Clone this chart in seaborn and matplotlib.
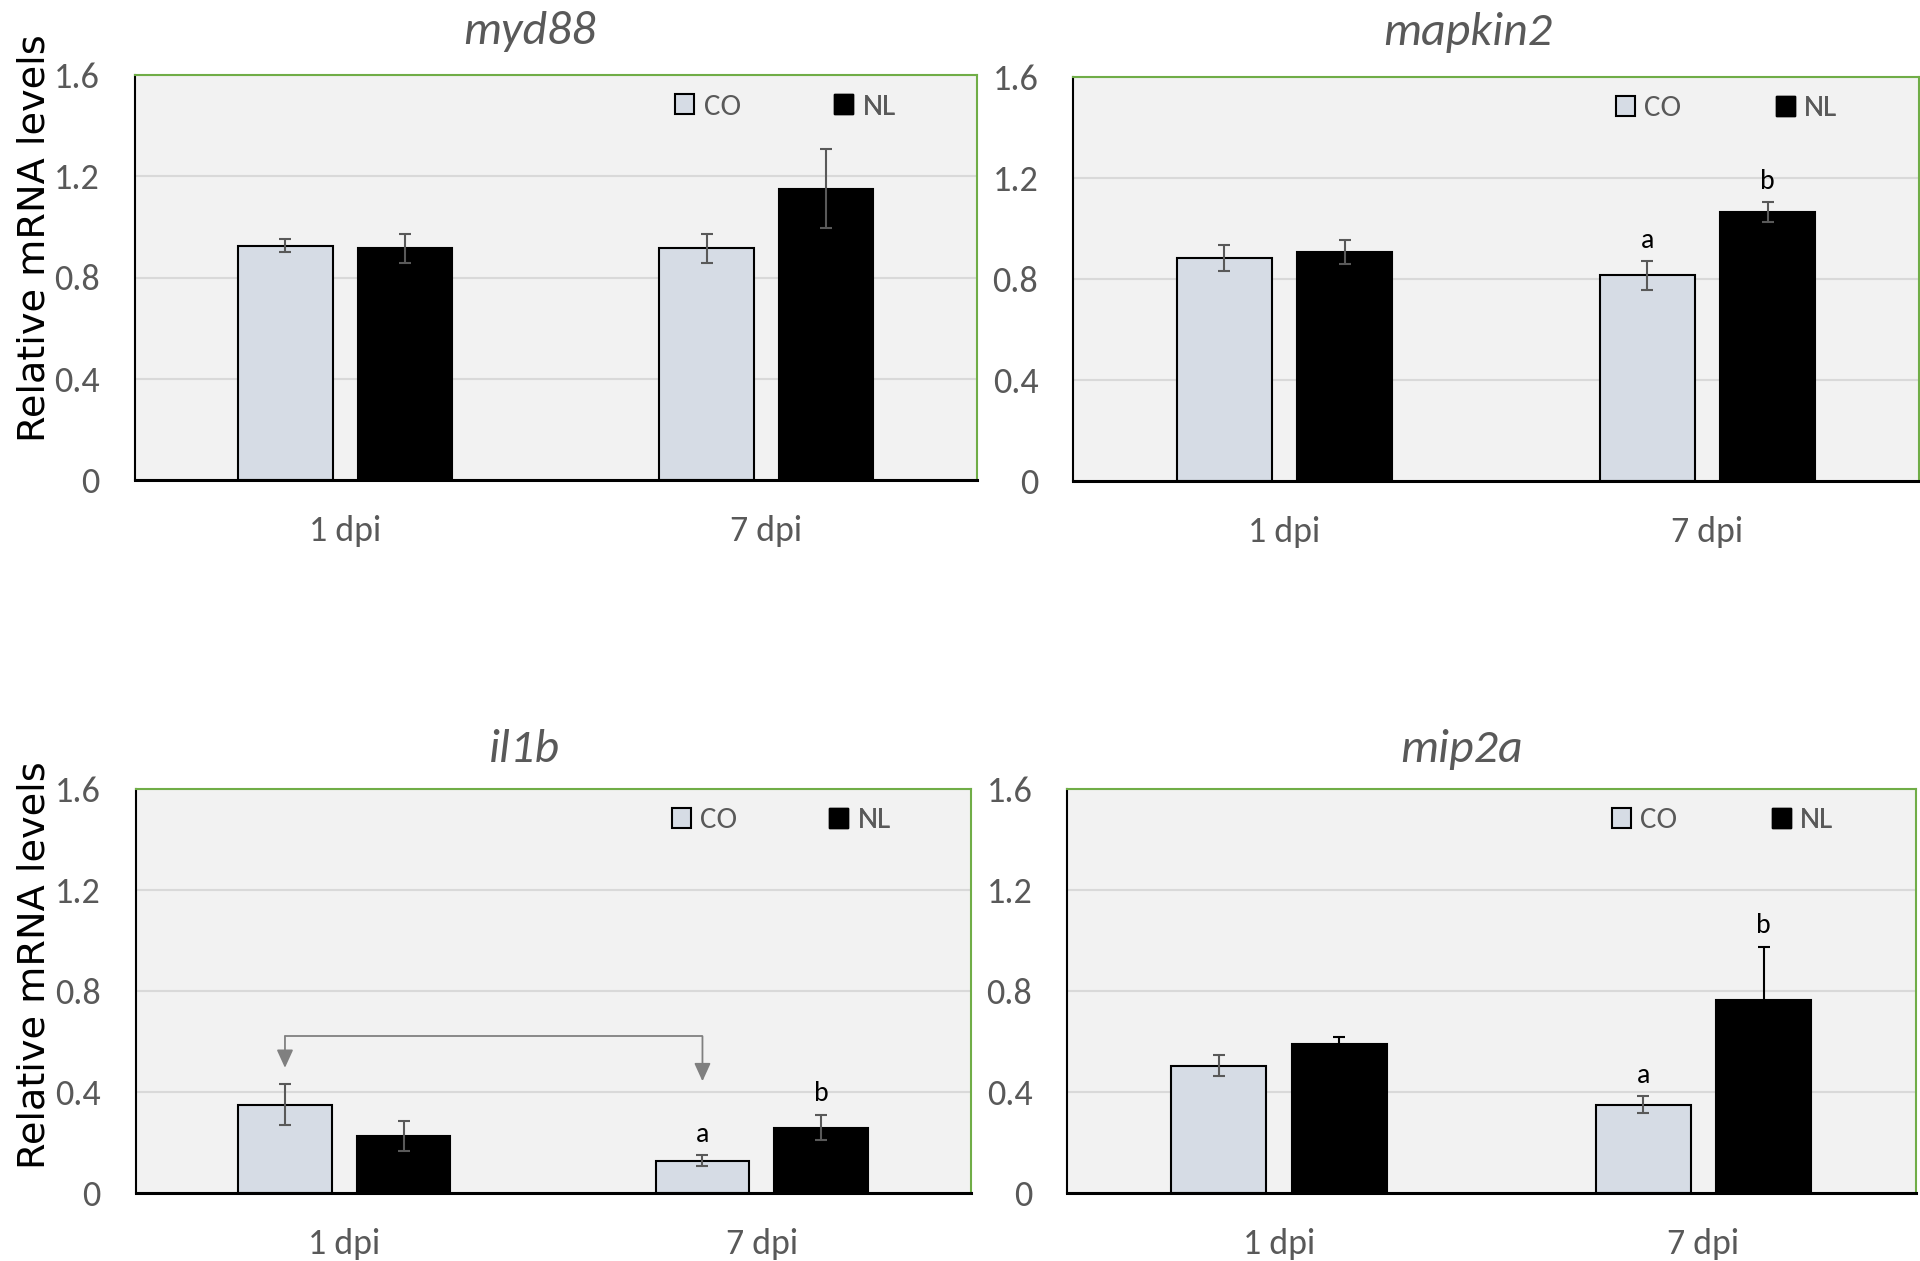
import numpy as np
import pandas as pd
import matplotlib
matplotlib.use("Agg")
import matplotlib.pyplot as plt
import seaborn as sns
from matplotlib.patches import Patch
from matplotlib import font_manager as fm

# ---------------- data ----------------
genes = ["myd88", "mapkin2", "il1b", "mip2a"]
days = ["1 dpi", "7 dpi"]
groups = ["CO", "NL"]

myd88_co = [0.926, 0.916]
myd88_nl = [0.916, 1.151]
myd88_co_err = [0.026, 0.057]
myd88_nl_err = [0.057, 0.157]

mapkin2_co = [0.882, 0.813]
mapkin2_nl = [0.906, 1.063]
mapkin2_co_err = [0.050, 0.057]
mapkin2_nl_err = [0.048, 0.040]

il1b_co = [0.350, 0.127]
il1b_nl = [0.226, 0.259]
il1b_co_err = [0.082, 0.022]
il1b_nl_err = [0.059, 0.051]

mip2a_co = [0.503, 0.350]
mip2a_nl = [0.589, 0.762]
mip2a_co_err = [0.041, 0.034]
mip2a_nl_err = [0.028, 0.212]

# significance letters at 7 dpi (CO, NL)
letters_7dpi = {"myd88": None, "mapkin2": ["a", "b"], "il1b": ["a", "b"], "mip2a": ["a", "b"]}

yticks = [0, 0.4, 0.8, 1.2, 1.6]
ytick_labels = ["0", "0.4", "0.8", "1.2", "1.6"]
ylabel = "Relative mRNA levels"

values = {
    "myd88": (myd88_co, myd88_nl, myd88_co_err, myd88_nl_err),
    "mapkin2": (mapkin2_co, mapkin2_nl, mapkin2_co_err, mapkin2_nl_err),
    "il1b": (il1b_co, il1b_nl, il1b_co_err, il1b_nl_err),
    "mip2a": (mip2a_co, mip2a_nl, mip2a_co_err, mip2a_nl_err),
}

# ---------------- style ----------------
sns.set_theme(style="white")
avail = {f.name for f in fm.fontManager.ttflist}


def pick(*names):
    for n in names:
        if n in avail:
            return n
    return "DejaVu Sans"


TFONT = pick("Carlito", "Lato", "Open Sans", "DejaVu Sans")
plt.rcParams["font.family"] = [TFONT, "DejaVu Sans"]

GRAY = "#595959"
CO_COLOR = "#D6DCE5"
GREEN = "#70AD47"
BG = "#F2F2F2"

W, H = 1920, 1261
fig = plt.figure(figsize=(W / 100, H / 100), dpi=100)
fig.patch.set_facecolor("white")
renderer = fig.canvas.get_renderer()


def fit(text, target_px, base=20.0, **kw):
    t = fig.text(0, 0, text, fontsize=base, **kw)
    w = t.get_window_extent(renderer=renderer).width
    t.remove()
    return base * target_px / w


FS_YTICK = fit("1.6", 46)
FS_XTICK = fit("1 dpi", 72)
FS_LEG = fit("CO", 37)
FS_TITLE = fit("myd88", 133, style="italic")
FS_YLAB = fit(ylabel, 408, family=["DejaVu Sans"])
FS_LET = 20
PX_PER_PT = 100 / 72

# axes boxes in pixels: left, right, top, bottom
boxes = {
    "myd88": (134.5, 977, 75, 480),
    "mapkin2": (1073, 1919, 76.5, 481),
    "il1b": (135.5, 970.5, 788.5, 1193),
    "mip2a": (1067, 1915.5, 788.5, 1193),
}
titles_pos = {
    "myd88": (529.5, 44.5),
    "mapkin2": (1468, 45),
    "il1b": (524, 762),
    "mip2a": (1461, 762),
}
err_colors = {
    "myd88": (GRAY, GRAY),
    "mapkin2": (GRAY, GRAY),
    "il1b": (GRAY, GRAY),
    "mip2a": (GRAY, "black"),
}

for g in genes:
    co, nl, co_e, nl_e = values[g]
    df = pd.DataFrame({
        "day": days + days,
        "group": [groups[0]] * len(days) + [groups[1]] * len(days),
        "value": list(co) + list(nl),
    })
    l, r, t, b = boxes[g]
    ax = fig.add_axes([l / W, 1 - b / H, (r - l) / W, (b - t) / H])
    ax.set_facecolor(BG)
    ax.set_axisbelow(True)
    sns.barplot(data=df, x="day", y="value", hue="group", order=days,
                hue_order=groups, palette={"CO": CO_COLOR, "NL": "black"},
                width=0.568, gap=0.211, edgecolor="black", linewidth=1.5,
                errorbar=None, legend=False, saturation=1, ax=ax)
    ax.set_xlim(-0.5, 1.5)
    ax.set_ylim(0, 1.6)
    ax.set_yticks(yticks)
    ax.set_yticklabels(ytick_labels)
    ax.set_xlabel("")
    ax.set_ylabel("")
    ax.yaxis.grid(True, color="#D9D9D9", lw=1.5)
    ax.xaxis.grid(False)
    ax.tick_params(axis="y", length=0, pad=25, labelsize=FS_YTICK, labelcolor=GRAY)
    ax.tick_params(axis="x", length=0, pad=25, labelsize=FS_XTICK, labelcolor=GRAY)
    for s in ["top", "right"]:
        ax.spines[s].set_color(GREEN)
        ax.spines[s].set_linewidth(1.5)
    ax.spines["left"].set_color("black")
    ax.spines["left"].set_linewidth(1.5)
    ax.spines["bottom"].set_color("black")
    ax.spines["bottom"].set_linewidth(2.2)

    # error bars
    errs = [co_e, nl_e]
    means = [co, nl]
    centers = []
    for gi, cont in enumerate(ax.containers[:2]):
        xs = [p.get_x() + p.get_width() / 2 for p in cont]
        centers.append(xs)
        ax.errorbar(xs, means[gi], yerr=errs[gi], fmt="none",
                    ecolor=err_colors[g][gi], elinewidth=1.5, capsize=4.5,
                    capthick=1.5, zorder=5)

    # letters
    lets = letters_7dpi[g]
    if lets:
        for gi in range(2):
            y = means[gi][1] + errs[gi][1] + 0.053
            ax.text(centers[gi][1], y, lets[gi], ha="center", va="baseline",
                    fontsize=FS_LET, color="black")

    # legend entries
    hsize = 19 / (FS_LEG * PX_PER_PT)
    handles = [Patch(facecolor=CO_COLOR, edgecolor="black", linewidth=1.5),
               Patch(facecolor="black", edgecolor="black", linewidth=1.0)]
    for hi, xf in enumerate([0.642, 0.8305]):
        leg = ax.legend(handles=[handles[hi]], labels=[groups[hi]],
                        loc="center left", bbox_to_anchor=(xf, 0.921),
                        frameon=False, fontsize=FS_LEG, handlelength=hsize,
                        handleheight=hsize, handletextpad=0.3, borderpad=0,
                        borderaxespad=0, labelcolor=GRAY)
        ax.add_artist(leg)

    # il1b arrow bracket
    if g == "il1b":
        x0, x1 = centers[0][0], centers[0][1]
        yb = 0.62
        ax.plot([x0, x1], [yb, yb], color="#808080", lw=1.3, zorder=6)
        for xx, tip in [(x0, 0.495), (x1, 0.442)]:
            ax.annotate("", xy=(xx, tip), xytext=(xx, yb),
                        arrowprops=dict(arrowstyle="-|>,head_length=1.1,head_width=0.5",
                                        color="#808080", lw=1.3, shrinkA=0,
                                        shrinkB=0, mutation_scale=10),
                        zorder=6)

    tx, ty = titles_pos[g]
    fig.text(tx / W, 1 - ty / H, g, ha="center", va="baseline",
             fontsize=FS_TITLE, style="italic", color=GRAY)

# y labels
for yc in [238, 965]:
    fig.text(35 / W, 1 - yc / H, ylabel, rotation=90, ha="center", va="center",
             fontsize=FS_YLAB, color="black", family=["DejaVu Sans"])

fig.savefig("out.png", dpi=100, facecolor="white")
